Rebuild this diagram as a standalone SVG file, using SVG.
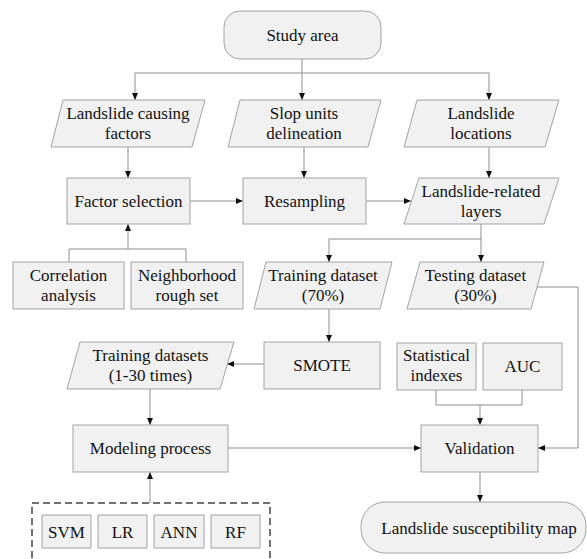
<svg xmlns="http://www.w3.org/2000/svg" width="587" height="559" viewBox="0 0 587 559" font-family="Liberation Serif, serif">
<style>
.n{fill:#f1f1f1;stroke:#a3a3a3;stroke-width:1}
.t{font-size:17px;fill:#111;text-anchor:middle}
.c{fill:none;stroke:#8f8f8f;stroke-width:1}
.a{marker-end:url(#ah)}
.d{fill:none;stroke:#444;stroke-width:1.5;stroke-dasharray:7 4}
</style>
<defs>
<marker id="ah" markerWidth="7" markerHeight="6" refX="7" refY="3" orient="auto" markerUnits="userSpaceOnUse">
<path d="M0,0 L7,3 L0,6 z" fill="#111"/>
</marker>
</defs>
<rect width="587" height="559" fill="#fff"/>
<g id="connectors">
<path class="c" d="M302 59 V73 M135 73 H489"/>
<path class="c a" d="M135 73 V100"/>
<path class="c a" d="M302 73 V100"/>
<path class="c a" d="M489 73 V100"/>
<path class="c a" d="M128 147 V178"/>
<path class="c a" d="M304 147 V178"/>
<path class="c a" d="M489 147 V178"/>
<path class="c a" d="M190 201 H243"/>
<path class="c a" d="M366 201 H411"/>
<path class="c" d="M69 262 V249 H186 V262"/>
<path class="c a" d="M128 249 V224"/>
<path class="c a" d="M481 224 V239 H329 V262"/>
<path class="c a" d="M481 239 V262"/>
<path class="c a" d="M537 287 H578 V448 H538"/>
<path class="c a" d="M329 309 V342"/>
<path class="c a" d="M264 364 H227"/>
<path class="c a" d="M150 389 V425"/>
<path class="c a" d="M228 448 H421"/>
<path class="c" d="M436 390 V405 H522 V390"/>
<path class="c a" d="M480 405 V425"/>
<path class="c a" d="M480 472 V502"/>
<path class="c a" d="M150 503 V472"/>
</g>
<g id="study-area"><rect class="n" x="224" y="11" width="157" height="48" rx="16"/><text class="t" x="302.5" y="41">Study area</text></g>
<g id="causing-factors"><polygon class="n" points="63,100 205,100 192,147 51,147"/><text class="t" x="128" y="119">Landslide causing</text><text class="t" x="128" y="139">factors</text></g>
<g id="slope-units"><polygon class="n" points="240,100 381,100 368,147 228,147"/><text class="t" x="304" y="119">Slop units</text><text class="t" x="304" y="139">delineation</text></g>
<g id="landslide-locations"><polygon class="n" points="417,100 559,100 545,147 404,147"/><text class="t" x="481" y="119">Landslide</text><text class="t" x="481" y="139">locations</text></g>
<g id="factor-selection"><rect class="n" x="67" y="178" width="123" height="46"/><text class="t" x="128.5" y="207">Factor selection</text></g>
<g id="resampling"><rect class="n" x="243" y="178" width="123" height="46"/><text class="t" x="304.5" y="207">Resampling</text></g>
<g id="landslide-layers"><polygon class="n" points="419,178 559,178 544,224 404,224"/><text class="t" x="481" y="197">Landslide-related</text><text class="t" x="481" y="217">layers</text></g>
<g id="correlation"><rect class="n" x="13" y="262" width="111" height="47"/><text class="t" x="68.5" y="281">Correlation</text><text class="t" x="68.5" y="301">analysis</text></g>
<g id="neighborhood"><rect class="n" x="131" y="262" width="112" height="47"/><text class="t" x="187" y="281">Neighborhood</text><text class="t" x="187" y="301">rough set</text></g>
<g id="training-dataset"><polygon class="n" points="266,262 392,262 380,309 254,309"/><text class="t" x="323" y="281">Training dataset</text><text class="t" x="323" y="301">(70%)</text></g>
<g id="testing-dataset"><polygon class="n" points="420,262 544,262 531,309 407,309"/><text class="t" x="475.5" y="281">Testing dataset</text><text class="t" x="475.5" y="301">(30%)</text></g>
<g id="smote"><rect class="n" x="264" y="342" width="116" height="47"/><text class="t" x="322" y="371">SMOTE</text></g>
<g id="training-datasets"><polygon class="n" points="80,342 234,342 220,389 67,389"/><text class="t" x="150.5" y="361">Training datasets</text><text class="t" x="150.5" y="381">(1-30 times)</text></g>
<g id="statistical-indexes"><rect class="n" x="397" y="343" width="79" height="47"/><text class="t" x="436.5" y="361">Statistical</text><text class="t" x="436.5" y="381">indexes</text></g>
<g id="auc"><rect class="n" x="483" y="343" width="79" height="47"/><text class="t" x="522.5" y="372">AUC</text></g>
<g id="modeling-process"><rect class="n" x="73" y="425" width="155" height="47"/><text class="t" x="150.5" y="454">Modeling process</text></g>
<g id="validation"><rect class="n" x="421" y="425" width="117" height="47"/><text class="t" x="479.5" y="454">Validation</text></g>
<g id="susceptibility-map"><rect class="n" x="361" y="502" width="225" height="51" rx="24"/><text class="t" x="479" y="534">Landslide susceptibility map</text></g>
<g id="models">
<rect class="d" x="32" y="503" width="238" height="70"/>
<g id="svm"><rect class="n" x="42" y="515" width="49" height="33"/><text class="t" x="66.5" y="538">SVM</text></g>
<g id="lr"><rect class="n" x="98" y="515" width="49" height="33"/><text class="t" x="122.5" y="538">LR</text></g>
<g id="ann"><rect class="n" x="154" y="515" width="50" height="33"/><text class="t" x="179" y="538">ANN</text></g>
<g id="rf"><rect class="n" x="211" y="515" width="49" height="33"/><text class="t" x="235.5" y="538">RF</text></g>
</g>
</svg>
